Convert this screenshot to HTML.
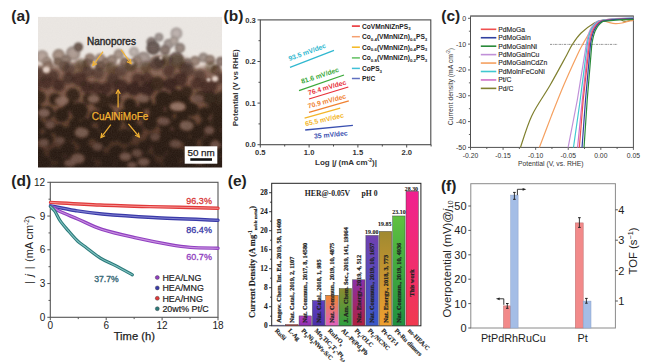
<!DOCTYPE html><html><head><meta charset="utf-8"><style>html,body{margin:0;padding:0;background:#fff;width:647px;height:362px;overflow:hidden;position:relative;font-family:"Liberation Sans",sans-serif}</style></head><body><svg width="647" height="362" viewBox="0 0 647 362" style="position:absolute;left:0;top:0">
<rect width="647" height="362" fill="#fff"/>
<defs><clipPath id="clipA"><rect x="38" y="16.8" width="184.1" height="150.6"/></clipPath><filter id="blurA" x="-50%" y="-50%" width="200%" height="200%"><feGaussianBlur stdDeviation="1.0"/></filter><filter id="blurP" x="-50%" y="-50%" width="200%" height="200%"><feTurbulence type="fractalNoise" baseFrequency="0.1" numOctaves="2" seed="11" result="t"/><feDisplacementMap in="SourceGraphic" in2="t" scale="8" xChannelSelector="R" yChannelSelector="G" result="d"/><feGaussianBlur in="d" stdDeviation="2.4"/></filter><filter id="blurPa" x="-50%" y="-50%" width="200%" height="200%"><feGaussianBlur stdDeviation="0.7"/></filter><filter id="blurA2" x="-20%" y="-20%" width="140%" height="140%"><feGaussianBlur stdDeviation="2.5"/></filter><filter id="blurA3" x="-50%" y="-50%" width="200%" height="200%"><feGaussianBlur stdDeviation="1.6"/></filter><filter id="noiseA"><feTurbulence type="fractalNoise" baseFrequency="0.8" numOctaves="1" seed="3"/><feColorMatrix type="matrix" values="0 0 0 0 0.62  0 0 0 0 0.58  0 0 0 0 0.55  0 0 0 0.3 0"/></filter></defs>
<g clip-path="url(#clipA)">
<rect x="38" y="16.8" width="184.1" height="150.6" fill="#ece8e4"/>
<g filter="url(#blurA2)"><path d="M30,66 L38,66 L50,64 L60,64 L70,63 L78,60 L86,64 L95,67 L105,66 L115,63 L125,66 L133,62 L145,64 L150,58 L158,54 L166,56 L172,58 L182,58 L186,58 L195,68 L205,66 L215,70 L225,68 L230,200 L30,200 Z" fill="#a8968e"/></g>
<defs><linearGradient id="tg" gradientUnits="userSpaceOnUse" x1="0" y1="50" x2="0" y2="170"><stop offset="0" stop-color="#947c72"/><stop offset="0.25" stop-color="#7a5e52"/><stop offset="0.6" stop-color="#62463a"/><stop offset="1" stop-color="#4a3228"/></linearGradient></defs>
<path d="M30,69 L38,69 L50,67 L60,67 L70,66 L78,63 L86,67 L95,70 L105,69 L115,66 L125,69 L133,65 L145,67 L150,61 L158,57 L166,59 L172,61 L182,61 L186,61 L195,71 L205,69 L215,73 L225,71 L230,200 L30,200 Z" fill="url(#tg)" filter="url(#blurA2)"/>
<g filter="url(#blurA)">
<circle cx="42.1" cy="56.4" r="6.2" fill="#b8a8a0"/>
<circle cx="42.1" cy="56.4" r="6.2" fill="url(#pg)"/>
<circle cx="58.7" cy="55.3" r="6.2" fill="#a89488"/>
<circle cx="58.7" cy="55.3" r="6.2" fill="url(#pg)"/>
<circle cx="73.2" cy="53.3" r="7" fill="#b0a098"/>
<circle cx="73.2" cy="53.3" r="7" fill="url(#pg)"/>
<circle cx="57.7" cy="61.5" r="4" fill="#7a6658"/>
<circle cx="57.7" cy="61.5" r="4" fill="url(#pg)"/>
<circle cx="78.4" cy="47" r="4.6" fill="#6e5a50"/>
<circle cx="78.4" cy="47" r="4.6" fill="url(#pg)"/>
<circle cx="89.8" cy="58.4" r="5" fill="#9a8478"/>
<circle cx="89.8" cy="58.4" r="5" fill="url(#pg)"/>
<circle cx="100.2" cy="58.4" r="5" fill="#a89488"/>
<circle cx="100.2" cy="58.4" r="5" fill="url(#pg)"/>
<circle cx="106.4" cy="62.6" r="5" fill="#8a7468"/>
<circle cx="106.4" cy="62.6" r="5" fill="url(#pg)"/>
<circle cx="118.8" cy="54.3" r="5" fill="#aa9a90"/>
<circle cx="118.8" cy="54.3" r="5" fill="url(#pg)"/>
<circle cx="125" cy="62.6" r="5" fill="#8a7468"/>
<circle cx="125" cy="62.6" r="5" fill="url(#pg)"/>
<circle cx="176.4" cy="33.4" r="5.8" fill="#c2b6b2"/>
<circle cx="176.4" cy="33.4" r="5.8" fill="url(#pg)"/>
<circle cx="168.7" cy="44" r="5" fill="#a89a95"/>
<circle cx="168.7" cy="44" r="5" fill="url(#pg)"/>
<circle cx="159" cy="37.3" r="4.3" fill="#a49894"/>
<circle cx="159" cy="37.3" r="4.3" fill="url(#pg)"/>
<circle cx="151.3" cy="42.1" r="4.8" fill="#8a7a75"/>
<circle cx="151.3" cy="42.1" r="4.8" fill="url(#pg)"/>
<circle cx="153.2" cy="47.9" r="6.8" fill="#6a5a55"/>
<circle cx="153.2" cy="47.9" r="6.8" fill="url(#pg)"/>
<circle cx="143.5" cy="58.6" r="6.8" fill="#a89c98"/>
<circle cx="143.5" cy="58.6" r="6.8" fill="url(#pg)"/>
<circle cx="133.9" cy="51.8" r="4.8" fill="#c0b8b4"/>
<circle cx="133.9" cy="51.8" r="4.8" fill="url(#pg)"/>
<circle cx="176.4" cy="58.6" r="6.8" fill="#8a7a75"/>
<circle cx="176.4" cy="58.6" r="6.8" fill="url(#pg)"/>
<circle cx="188" cy="63.4" r="4.8" fill="#8a7a75"/>
<circle cx="188" cy="63.4" r="4.8" fill="url(#pg)"/>
<circle cx="203.4" cy="57.6" r="4.8" fill="#a09590"/>
<circle cx="203.4" cy="57.6" r="4.8" fill="url(#pg)"/>
<circle cx="220.8" cy="61.5" r="4.8" fill="#8a7a75"/>
<circle cx="220.8" cy="61.5" r="4.8" fill="url(#pg)"/>
<circle cx="174" cy="41" r="4.5" fill="#b4a69e"/>
<circle cx="174" cy="41" r="4.5" fill="url(#pg)"/>
<circle cx="180" cy="48" r="5" fill="#9a8a82"/>
<circle cx="180" cy="48" r="5" fill="url(#pg)"/>
<circle cx="165" cy="50" r="5" fill="#8a7870"/>
<circle cx="165" cy="50" r="5" fill="url(#pg)"/>
<circle cx="47" cy="62" r="5" fill="#a49288"/>
<circle cx="47" cy="62" r="5" fill="url(#pg)"/>
<circle cx="66" cy="60" r="5" fill="#8e7c72"/>
<circle cx="66" cy="60" r="5" fill="url(#pg)"/>
<circle cx="137" cy="61" r="5" fill="#9a887e"/>
<circle cx="137" cy="61" r="5" fill="url(#pg)"/>
<circle cx="112" cy="60" r="5" fill="#9a887e"/>
<circle cx="112" cy="60" r="5" fill="url(#pg)"/>
<circle cx="195" cy="61" r="5" fill="#9a887e"/>
<circle cx="195" cy="61" r="5" fill="url(#pg)"/>
<circle cx="88" cy="64" r="5.5" fill="#7a6458"/>
<circle cx="88" cy="64" r="5.5" fill="url(#pg)"/>
<circle cx="48" cy="66" r="5" fill="#8a7468"/>
<circle cx="48" cy="66" r="5" fill="url(#pg)"/>
<circle cx="130" cy="66" r="5" fill="#7e6a60"/>
<circle cx="130" cy="66" r="5" fill="url(#pg)"/>
<circle cx="160" cy="62" r="5.5" fill="#6e5a50"/>
<circle cx="160" cy="62" r="5.5" fill="url(#pg)"/>
<circle cx="210" cy="60" r="5" fill="#9a887e"/>
<circle cx="210" cy="60" r="5" fill="url(#pg)"/>
<circle cx="216" cy="70" r="5" fill="#6e5a50"/>
<circle cx="216" cy="70" r="5" fill="url(#pg)"/>
<circle cx="184" cy="68" r="5" fill="#7a6458"/>
<circle cx="184" cy="68" r="5" fill="url(#pg)"/>
<circle cx="100" cy="66" r="5" fill="#6e5a50"/>
<circle cx="100" cy="66" r="5" fill="url(#pg)"/>
<circle cx="64" cy="66" r="5" fill="#6e5a50"/>
<circle cx="64" cy="66" r="5" fill="url(#pg)"/>
</g>
<defs><radialGradient id="pg" cx="0.5" cy="0.5" r="0.5"><stop offset="0" stop-color="#000" stop-opacity="0.0"/><stop offset="0.7" stop-color="#000" stop-opacity="0.08"/><stop offset="1" stop-color="#000" stop-opacity="0.3"/></radialGradient><radialGradient id="dg" cx="0.5" cy="0.5" r="0.5"><stop offset="0" stop-color="#22160f" stop-opacity="1"/><stop offset="0.75" stop-color="#2a1c17" stop-opacity="0.95"/><stop offset="1" stop-color="#2a1c17" stop-opacity="0"/></radialGradient></defs>
<g filter="url(#blurA3)">
<circle cx="69.1" cy="68.8" r="6.3" fill="#22140e" opacity="0.49"/>
<circle cx="81.5" cy="64.7" r="6.3" fill="#22140e" opacity="0.44"/>
<circle cx="79.4" cy="79.2" r="7.4" fill="#22140e" opacity="0.68"/>
<circle cx="98.1" cy="73.0" r="6.3" fill="#22140e" opacity="0.49"/>
<circle cx="120.9" cy="70.9" r="6.3" fill="#22140e" opacity="0.49"/>
<circle cx="112.6" cy="79.2" r="6.3" fill="#22140e" opacity="0.63"/>
<circle cx="58.7" cy="85.4" r="6.3" fill="#22140e" opacity="0.72"/>
<circle cx="96.0" cy="87.5" r="6.3" fill="#22140e" opacity="0.71"/>
<circle cx="211.2" cy="67.3" r="6.1" fill="#22140e" opacity="0.40"/>
<circle cx="168.7" cy="71.1" r="6.1" fill="#22140e" opacity="0.61"/>
<circle cx="137.7" cy="78.8" r="6.1" fill="#22140e" opacity="0.64"/>
<circle cx="199.6" cy="75.0" r="6.1" fill="#22140e" opacity="0.52"/>
<circle cx="61.8" cy="114.9" r="7.4" fill="#22140e" opacity="1.00"/>
<circle cx="67.8" cy="148.6" r="7.4" fill="#22140e" opacity="1.00"/>
<circle cx="107.5" cy="160.6" r="7.4" fill="#22140e" opacity="1.00"/>
<circle cx="113.5" cy="134.7" r="7.4" fill="#22140e" opacity="1.00"/>
<circle cx="186.6" cy="91.8" r="6.3" fill="#22140e" opacity="0.90"/>
<circle cx="136.8" cy="130.3" r="6.3" fill="#22140e" opacity="1.00"/>
<circle cx="125.0" cy="136.7" r="7.9" fill="#22140e" opacity="1.00"/>
<circle cx="85.7" cy="152.1" r="8.0" fill="#22140e" opacity="1.00"/>
<circle cx="149.9" cy="123.0" r="7.9" fill="#22140e" opacity="1.00"/>
<circle cx="46.6" cy="139.3" r="6.8" fill="#22140e" opacity="1.00"/>
<circle cx="43.9" cy="163.2" r="7.4" fill="#22140e" opacity="1.00"/>
<circle cx="93.3" cy="133.2" r="6.3" fill="#22140e" opacity="1.00"/>
<circle cx="191.9" cy="109.4" r="7.1" fill="#22140e" opacity="1.00"/>
<circle cx="223.4" cy="138.2" r="6.9" fill="#22140e" opacity="1.00"/>
<circle cx="103.2" cy="140.1" r="7.9" fill="#22140e" opacity="1.00"/>
<circle cx="132.2" cy="151.8" r="7.4" fill="#22140e" opacity="1.00"/>
<circle cx="37.5" cy="153.7" r="7.1" fill="#22140e" opacity="1.00"/>
<circle cx="133.7" cy="88.9" r="7.1" fill="#22140e" opacity="0.80"/>
<circle cx="39.2" cy="97.3" r="6.9" fill="#22140e" opacity="0.87"/>
<circle cx="156.8" cy="63.5" r="7.2" fill="#22140e" opacity="0.53"/>
<circle cx="72.9" cy="95.1" r="7.3" fill="#22140e" opacity="0.90"/>
<circle cx="219.9" cy="120.1" r="8.8" fill="#22140e" opacity="1.00"/>
<circle cx="64.8" cy="164.0" r="6.9" fill="#22140e" opacity="1.00"/>
<circle cx="157.3" cy="83.7" r="7.4" fill="#22140e" opacity="0.84"/>
<circle cx="217.5" cy="161.5" r="6.3" fill="#22140e" opacity="1.00"/>
<circle cx="170.1" cy="84.3" r="6.7" fill="#22140e" opacity="0.80"/>
<circle cx="82.0" cy="138.1" r="8.0" fill="#22140e" opacity="1.00"/>
<circle cx="79.3" cy="110.8" r="8.9" fill="#22140e" opacity="1.00"/>
<circle cx="147.3" cy="161.3" r="8.3" fill="#22140e" opacity="1.00"/>
<circle cx="145.7" cy="102.9" r="6.9" fill="#22140e" opacity="1.00"/>
<circle cx="176.2" cy="123.5" r="5.8" fill="#22140e" opacity="1.00"/>
<circle cx="171.2" cy="161.3" r="8.3" fill="#22140e" opacity="1.00"/>
<circle cx="101.2" cy="101.4" r="8.7" fill="#22140e" opacity="0.93"/>
<circle cx="180.9" cy="134.2" r="8.7" fill="#22140e" opacity="1.00"/>
<circle cx="130.0" cy="104.6" r="6.7" fill="#22140e" opacity="1.00"/>
<circle cx="88.0" cy="165.3" r="7.7" fill="#22140e" opacity="1.00"/>
<circle cx="197.2" cy="132.3" r="8.2" fill="#22140e" opacity="1.00"/>
<circle cx="203.2" cy="153.6" r="6.9" fill="#22140e" opacity="1.00"/>
<circle cx="176.0" cy="94.9" r="6.2" fill="#22140e" opacity="0.95"/>
<circle cx="34.5" cy="86.6" r="6.3" fill="#22140e" opacity="0.71"/>
<circle cx="137.1" cy="113.4" r="7.4" fill="#22140e" opacity="1.00"/>
<circle cx="159.7" cy="149.2" r="7.4" fill="#22140e" opacity="1.00"/>
<circle cx="156.6" cy="111.1" r="7.8" fill="#22140e" opacity="1.00"/>
<circle cx="196.5" cy="83.8" r="6.0" fill="#22140e" opacity="0.64"/>
<circle cx="53.2" cy="75.8" r="6.0" fill="#22140e" opacity="0.58"/>
<circle cx="115.0" cy="123.6" r="6.8" fill="#22140e" opacity="1.00"/>
<circle cx="214.9" cy="108.8" r="6.7" fill="#22140e" opacity="0.98"/>
<circle cx="213.0" cy="132.1" r="7.9" fill="#22140e" opacity="1.00"/>
<circle cx="101.5" cy="171.7" r="6.8" fill="#22140e" opacity="1.00"/>
<circle cx="70.5" cy="133.6" r="7.8" fill="#22140e" opacity="1.00"/>
<circle cx="121.9" cy="165.5" r="7.0" fill="#22140e" opacity="1.00"/>
<circle cx="152.8" cy="139.9" r="6.9" fill="#22140e" opacity="1.00"/>
<circle cx="208.9" cy="85.9" r="8.4" fill="#22140e" opacity="0.68"/>
<circle cx="114.5" cy="99.4" r="6.6" fill="#22140e" opacity="0.94"/>
<circle cx="54.9" cy="99.3" r="6.3" fill="#22140e" opacity="0.93"/>
<circle cx="55.9" cy="154.3" r="7.0" fill="#22140e" opacity="1.00"/>
<circle cx="59.6" cy="130.3" r="6.2" fill="#22140e" opacity="1.00"/>
<circle cx="220.1" cy="78.6" r="6.3" fill="#22140e" opacity="0.54"/>
<circle cx="116.4" cy="152.9" r="7.9" fill="#22140e" opacity="1.00"/>
<circle cx="227.7" cy="149.8" r="7.2" fill="#22140e" opacity="1.00"/>
<circle cx="207.7" cy="165.1" r="7.4" fill="#22140e" opacity="1.00"/>
<circle cx="164.9" cy="125.6" r="6.3" fill="#22140e" opacity="1.00"/>
<circle cx="124.4" cy="115.0" r="6.3" fill="#22140e" opacity="1.00"/>
<circle cx="85.9" cy="124.6" r="6.6" fill="#22140e" opacity="1.00"/>
<circle cx="200.5" cy="96.5" r="6.0" fill="#22140e" opacity="0.84"/>
<circle cx="187.6" cy="162.8" r="5.9" fill="#22140e" opacity="1.00"/>
<circle cx="46.2" cy="82.9" r="6.4" fill="#22140e" opacity="0.67"/>
<circle cx="204.8" cy="113.1" r="6.5" fill="#22140e" opacity="1.00"/>
<circle cx="33.1" cy="134.8" r="8.0" fill="#22140e" opacity="1.00"/>
<circle cx="207.6" cy="143.0" r="6.3" fill="#22140e" opacity="1.00"/>
<circle cx="190.4" cy="144.3" r="6.7" fill="#22140e" opacity="1.00"/>
<circle cx="172.9" cy="107.0" r="7.6" fill="#22140e" opacity="1.00"/>
<circle cx="95.6" cy="117.1" r="6.7" fill="#22140e" opacity="1.00"/>
<circle cx="49.7" cy="127.2" r="6.5" fill="#22140e" opacity="1.00"/>
<circle cx="220.7" cy="97.5" r="6.1" fill="#22140e" opacity="0.83"/>
<circle cx="36.5" cy="171.0" r="5.8" fill="#22140e" opacity="1.00"/>
<circle cx="36.2" cy="111.5" r="8.0" fill="#22140e" opacity="1.00"/>
<circle cx="195.3" cy="171.7" r="8.0" fill="#22140e" opacity="1.00"/>
<circle cx="163.1" cy="99.1" r="8.4" fill="#22140e" opacity="1.00"/>
<circle cx="187.6" cy="69.7" r="7.2" fill="#22140e" opacity="0.55"/>
<circle cx="226.6" cy="169.9" r="6.8" fill="#22140e" opacity="1.00"/>
<circle cx="171.8" cy="148.4" r="5.9" fill="#22140e" opacity="1.00"/>
<circle cx="77.6" cy="169.5" r="6.6" fill="#22140e" opacity="1.00"/>
<circle cx="97.5" cy="153.1" r="6.9" fill="#22140e" opacity="1.00"/>
<circle cx="120.8" cy="87.1" r="8.0" fill="#22140e" opacity="0.74"/>
<circle cx="145.7" cy="67.2" r="5.9" fill="#22140e" opacity="0.46"/>
<circle cx="75.3" cy="157.2" r="6.5" fill="#22140e" opacity="1.00"/>
<circle cx="147.2" cy="89.5" r="7.7" fill="#22140e" opacity="0.82"/>
<circle cx="56.6" cy="171.9" r="7.4" fill="#22140e" opacity="1.00"/>
<circle cx="88.6" cy="98.8" r="6.1" fill="#22140e" opacity="0.91"/>
<circle cx="177.0" cy="61.9" r="8.0" fill="#22140e" opacity="0.46"/>
<circle cx="47.5" cy="112.9" r="6.8" fill="#22140e" opacity="1.00"/>
<circle cx="39.3" cy="74.6" r="7.8" fill="#22140e" opacity="0.53"/>
<circle cx="74.7" cy="123.6" r="6.0" fill="#22140e" opacity="1.00"/>
<circle cx="106.6" cy="112.5" r="7.2" fill="#22140e" opacity="1.00"/>
<circle cx="131.8" cy="65.6" r="6.3" fill="#22140e" opacity="0.45"/>
<circle cx="167.5" cy="116.4" r="5.8" fill="#22140e" opacity="1.00"/>
<circle cx="227.8" cy="90.6" r="5.8" fill="#22140e" opacity="0.73"/>
<circle cx="134.4" cy="166.0" r="8.9" fill="#22140e" opacity="1.00"/>
<circle cx="86.5" cy="86.9" r="6.2" fill="#22140e" opacity="0.74"/>
<circle cx="156.3" cy="168.1" r="5.9" fill="#22140e" opacity="1.00"/>
<circle cx="106.2" cy="88.1" r="6.1" fill="#22140e" opacity="0.74"/>
<circle cx="166.7" cy="136.8" r="8.3" fill="#22140e" opacity="1.00"/>
<circle cx="190.1" cy="123.7" r="5.8" fill="#22140e" opacity="1.00"/>
<circle cx="178.2" cy="171.3" r="7.4" fill="#22140e" opacity="1.00"/>
<circle cx="144.0" cy="146.7" r="6.4" fill="#22140e" opacity="1.00"/>
<circle cx="226.4" cy="107.2" r="7.5" fill="#22140e" opacity="0.98"/>
<circle cx="179.2" cy="153.7" r="5.8" fill="#22140e" opacity="1.00"/>
<circle cx="216.4" cy="151.9" r="6.0" fill="#22140e" opacity="1.00"/>
<circle cx="147.2" cy="78.1" r="5.9" fill="#22140e" opacity="0.65"/>
<circle cx="104.7" cy="126.1" r="7.0" fill="#22140e" opacity="1.00"/>
<circle cx="61.8" cy="139.4" r="5.8" fill="#22140e" opacity="1.00"/>
<circle cx="38.2" cy="124.9" r="6.0" fill="#22140e" opacity="1.00"/>
<circle cx="111.6" cy="170.7" r="6.3" fill="#22140e" opacity="1.00"/>
<circle cx="180.2" cy="79.5" r="7.3" fill="#22140e" opacity="0.72"/>
<circle cx="68.4" cy="78.4" r="6.0" fill="#22140e" opacity="0.63"/>
<circle cx="69.0" cy="105.8" r="5.8" fill="#22140e" opacity="1.00"/>
<circle cx="87.9" cy="72.1" r="5.9" fill="#22140e" opacity="0.51"/>
<circle cx="205.6" cy="124.5" r="5.9" fill="#22140e" opacity="1.00"/>
<circle cx="193.1" cy="154.8" r="6.0" fill="#22140e" opacity="1.00"/>
<circle cx="110.5" cy="67.9" r="6.0" fill="#22140e" opacity="0.45"/>
<circle cx="210.6" cy="99.0" r="7.2" fill="#22140e" opacity="0.86"/>
<circle cx="228.0" cy="128.7" r="6.2" fill="#22140e" opacity="1.00"/>
<circle cx="182.2" cy="115.5" r="6.5" fill="#22140e" opacity="1.00"/>
<circle cx="130.6" cy="122.8" r="6.1" fill="#22140e" opacity="1.00"/>
<circle cx="184.4" cy="101.6" r="6.3" fill="#22140e" opacity="1.00"/>
<circle cx="166.3" cy="59.6" r="5.9" fill="#22140e" opacity="0.45"/>
<circle cx="165.5" cy="171.6" r="6.4" fill="#22140e" opacity="1.00"/>
</g>
<ellipse cx="46.3" cy="69.8" rx="3.5" ry="3.2" fill="#ddd2cc" filter="url(#blurA)"/>
<ellipse cx="92.9" cy="65.7" rx="2.2" ry="2" fill="#ddd2cc" filter="url(#blurA)"/>
<ellipse cx="160.9" cy="57.6" rx="1.6" ry="2.2" fill="#ddd2cc" filter="url(#blurA)"/>
<ellipse cx="215" cy="78.8" rx="3.2" ry="3" fill="#ddd2cc" filter="url(#blurA)"/>
<ellipse cx="131.9" cy="62.8" rx="2" ry="1.8" fill="#ddd2cc" filter="url(#blurA)"/>
<ellipse cx="208.6" cy="79.8" rx="2.2" ry="2" fill="#ddd2cc" filter="url(#blurA)"/>
<ellipse cx="177.6" cy="106.5" rx="8" ry="4.5" fill="#9a7e72" opacity="0.85" filter="url(#blurA3)"/>
<ellipse cx="61.8" cy="101" rx="7" ry="4.5" fill="#8a7066" opacity="0.8" filter="url(#blurA3)"/>
<ellipse cx="93.6" cy="99" rx="6" ry="4" fill="#8a7066" opacity="0.8" filter="url(#blurA3)"/>
<defs><linearGradient id="bg2" x1="0" y1="0" x2="0" y2="1"><stop offset="0" stop-color="#1a100c" stop-opacity="0"/><stop offset="1" stop-color="#1a100c" stop-opacity="0.55"/></linearGradient></defs>
<rect x="30" y="110" width="200" height="60" fill="url(#bg2)"/>
<g filter="url(#blurA3)">
<ellipse cx="44" cy="112.9" rx="6" ry="4.5" fill="#7e6660" opacity="0.85"/>
<ellipse cx="50" cy="124.8" rx="5" ry="4" fill="#6a5450" opacity="0.85"/>
<ellipse cx="81.7" cy="132.8" rx="7" ry="5" fill="#76605a" opacity="0.85"/>
<ellipse cx="59.9" cy="140.7" rx="5" ry="4" fill="#5e4a46" opacity="0.85"/>
<ellipse cx="44" cy="142.7" rx="5" ry="4" fill="#66524c" opacity="0.85"/>
<ellipse cx="77.7" cy="158.6" rx="7" ry="5" fill="#6e5852" opacity="0.85"/>
<ellipse cx="97.6" cy="146.7" rx="5" ry="4" fill="#5e4a46" opacity="0.85"/>
<ellipse cx="125.4" cy="156.6" rx="6" ry="4" fill="#6e5852" opacity="0.85"/>
<ellipse cx="143.6" cy="98.6" rx="6" ry="4" fill="#7a625a" opacity="0.85"/>
<ellipse cx="198" cy="98.6" rx="6" ry="4" fill="#6a5450" opacity="0.85"/>
<ellipse cx="164" cy="121.3" rx="6" ry="4" fill="#6a5450" opacity="0.85"/>
<ellipse cx="186.6" cy="125.8" rx="7" ry="5" fill="#76605a" opacity="0.85"/>
<ellipse cx="209.3" cy="130.3" rx="5" ry="4" fill="#6a5450" opacity="0.85"/>
<ellipse cx="155" cy="137" rx="5" ry="4" fill="#5e4a46" opacity="0.85"/>
<ellipse cx="175.3" cy="143.9" rx="6" ry="4" fill="#5e4a46" opacity="0.85"/>
<ellipse cx="136.8" cy="153" rx="5" ry="4" fill="#5e4a46" opacity="0.85"/>
<ellipse cx="143.6" cy="162" rx="6" ry="4" fill="#6e5852" opacity="0.85"/>
<ellipse cx="70" cy="163" rx="6" ry="3.5" fill="#6a5450" opacity="0.85"/>
<ellipse cx="132" cy="165" rx="5" ry="3" fill="#6a5450" opacity="0.85"/>
<ellipse cx="200" cy="160" rx="6" ry="4" fill="#5e4a46" opacity="0.85"/>
<ellipse cx="215" cy="145" rx="5" ry="4" fill="#66524c" opacity="0.85"/>
</g>
<defs><linearGradient id="sep" x1="0" y1="0" x2="0" y2="1"><stop offset="0" stop-color="#c8805a" stop-opacity="0"/><stop offset="0.2" stop-color="#c8805a" stop-opacity="0.17"/><stop offset="1" stop-color="#c8805a" stop-opacity="0.17"/></linearGradient></defs>
<rect x="30" y="45" width="200" height="135" fill="url(#sep)" style="mix-blend-mode:color"/>
<rect x="38" y="16.8" width="184.1" height="150.6" filter="url(#noiseA)" opacity="0.45"/>
</g>
<text x="87" y="45" font-family='"Liberation Sans", sans-serif' font-size="10" font-weight="normal" fill="#2a2a2a" text-anchor="start" stroke="#2a2a2a" stroke-width="0.4">Nanopores</text>
<text x="91.7" y="119.5" font-family='"Liberation Sans", sans-serif' font-size="10" font-weight="normal" fill="#f2b233" text-anchor="start"  stroke="#f2b233" stroke-width="0.25">CuAlNiMoFe</text>
<line x1="103" y1="51.7" x2="92.9" y2="65.5" stroke="#f2b233" stroke-width="1.2" />
<polyline points="93.5,61.0 92.9,65.5 97.0,63.6" fill="none" stroke="#f2b233" stroke-width="1.2"/>
<line x1="121" y1="49.7" x2="131" y2="63.5" stroke="#f2b233" stroke-width="1.2" />
<polyline points="126.9,61.6 131,63.5 130.4,59.0" fill="none" stroke="#f2b233" stroke-width="1.2"/>
<line x1="118.1" y1="107.6" x2="118.1" y2="90" stroke="#f2b233" stroke-width="1.2" />
<polyline points="120.3,93.9 118.1,90 115.9,93.9" fill="none" stroke="#f2b233" stroke-width="1.2"/>
<line x1="110.8" y1="124.7" x2="101" y2="137.6" stroke="#f2b233" stroke-width="1.2" />
<polyline points="101.7,133.2 101,137.6 105.1,135.8" fill="none" stroke="#f2b233" stroke-width="1.2"/>
<line x1="128.4" y1="123.8" x2="139.3" y2="137" stroke="#f2b233" stroke-width="1.2" />
<polyline points="135.1,135.3 139.3,137 138.4,132.6" fill="none" stroke="#f2b233" stroke-width="1.2"/>
<rect x="184.7" y="146.3" width="32.6" height="17.4" fill="#fff"/>
<text x="187.4" y="155.8" font-family='"Liberation Sans", sans-serif' font-size="9.9" font-weight="normal" fill="#222" text-anchor="start"  stroke="#222" stroke-width="0.25">50 nm</text>
<rect x="190.3" y="158.2" width="21.7" height="2.6" fill="#111"/>
<rect x="260.3" y="19.9" width="170.5" height="124.79999999999998" fill="none" stroke="#4a4a4a" stroke-width="1.1"/>
<line x1="257.5" y1="144.7" x2="260.3" y2="144.7" stroke="#4a4a4a" stroke-width="1" />
<text x="255.8" y="147.39999999999998" font-family='"Liberation Sans", sans-serif' font-size="7.6" font-weight="bold" fill="#333" text-anchor="end" >0.0</text>
<line x1="258.5" y1="123.89999999999999" x2="260.3" y2="123.89999999999999" stroke="#4a4a4a" stroke-width="1" />
<line x1="257.5" y1="103.1" x2="260.3" y2="103.1" stroke="#4a4a4a" stroke-width="1" />
<text x="255.8" y="105.8" font-family='"Liberation Sans", sans-serif' font-size="7.6" font-weight="bold" fill="#333" text-anchor="end" >0.1</text>
<line x1="258.5" y1="82.29999999999998" x2="260.3" y2="82.29999999999998" stroke="#4a4a4a" stroke-width="1" />
<line x1="257.5" y1="61.499999999999986" x2="260.3" y2="61.499999999999986" stroke="#4a4a4a" stroke-width="1" />
<text x="255.8" y="64.19999999999999" font-family='"Liberation Sans", sans-serif' font-size="7.6" font-weight="bold" fill="#333" text-anchor="end" >0.2</text>
<line x1="258.5" y1="40.69999999999999" x2="260.3" y2="40.69999999999999" stroke="#4a4a4a" stroke-width="1" />
<line x1="257.5" y1="19.899999999999977" x2="260.3" y2="19.899999999999977" stroke="#4a4a4a" stroke-width="1" />
<text x="255.8" y="22.599999999999977" font-family='"Liberation Sans", sans-serif' font-size="7.6" font-weight="bold" fill="#333" text-anchor="end" >0.3</text>
<line x1="260.3" y1="144.7" x2="260.3" y2="147.5" stroke="#4a4a4a" stroke-width="1" />
<text x="260.3" y="155.4" font-family='"Liberation Sans", sans-serif' font-size="7.6" font-weight="bold" fill="#333" text-anchor="middle" >0.5</text>
<line x1="284.7" y1="144.7" x2="284.7" y2="146.5" stroke="#4a4a4a" stroke-width="1" />
<line x1="309.1" y1="144.7" x2="309.1" y2="147.5" stroke="#4a4a4a" stroke-width="1" />
<text x="309.1" y="155.4" font-family='"Liberation Sans", sans-serif' font-size="7.6" font-weight="bold" fill="#333" text-anchor="middle" >1.0</text>
<line x1="333.5" y1="144.7" x2="333.5" y2="146.5" stroke="#4a4a4a" stroke-width="1" />
<line x1="357.9" y1="144.7" x2="357.9" y2="147.5" stroke="#4a4a4a" stroke-width="1" />
<text x="357.9" y="155.4" font-family='"Liberation Sans", sans-serif' font-size="7.6" font-weight="bold" fill="#333" text-anchor="middle" >1.5</text>
<line x1="382.3" y1="144.7" x2="382.3" y2="146.5" stroke="#4a4a4a" stroke-width="1" />
<line x1="406.7" y1="144.7" x2="406.7" y2="147.5" stroke="#4a4a4a" stroke-width="1" />
<text x="406.7" y="155.4" font-family='"Liberation Sans", sans-serif' font-size="7.6" font-weight="bold" fill="#333" text-anchor="middle" >2.0</text>
<line x1="431.1" y1="144.7" x2="431.1" y2="146.5" stroke="#4a4a4a" stroke-width="1" />
<text x="238.3" y="87.8" font-family='"Liberation Sans", sans-serif' font-size="8" font-weight="bold" fill="#333" text-anchor="middle" transform="rotate(-90 238.3 87.8)" >Potential (V vs RHE)</text>
<text x="315" y="165.4" font-family='"Liberation Sans", sans-serif' font-size="8" font-weight="bold" fill="#333">Log |<tspan font-style="italic">j</tspan> (mA cm<tspan font-size="5" dy="-3">-2</tspan><tspan dy="3">)|</tspan></text>
<line x1="290" y1="67.4" x2="334" y2="50.4" stroke="#30b8d0" stroke-width="1.3" />
<text x="289.5" y="61" font-family='"Liberation Sans", sans-serif' font-size="6.8" font-weight="bold" fill="#30b8d0" text-anchor="start" transform="rotate(-20 289.5 61)" >93.5 mV/dec</text>
<line x1="299" y1="90.7" x2="344" y2="75" stroke="#3aa93a" stroke-width="1.3" />
<text x="302" y="83.8" font-family='"Liberation Sans", sans-serif' font-size="6.8" font-weight="bold" fill="#3aa93a" text-anchor="start" transform="rotate(-18 302 83.8)" >81.6 mV/dec</text>
<line x1="309" y1="99" x2="348.3" y2="87" stroke="#e8303a" stroke-width="1.3" />
<text x="308.8" y="95.2" font-family='"Liberation Sans", sans-serif' font-size="6.8" font-weight="bold" fill="#e8303a" text-anchor="start" transform="rotate(-16 308.8 95.2)" >76.4 mV/dec</text>
<line x1="309" y1="112.3" x2="348.8" y2="100.8" stroke="#f08232" stroke-width="1.3" />
<text x="308.5" y="108.5" font-family='"Liberation Sans", sans-serif' font-size="6.8" font-weight="bold" fill="#f08232" text-anchor="start" transform="rotate(-15 308.5 108.5)" >70.9 mV/dec</text>
<line x1="304.6" y1="118.1" x2="340.2" y2="108.2" stroke="#f3b52a" stroke-width="1.3" />
<text x="305.8" y="126.2" font-family='"Liberation Sans", sans-serif' font-size="6.8" font-weight="bold" fill="#f3b52a" text-anchor="start" transform="rotate(-13 305.8 126.2)" >65.5 mV/dec</text>
<line x1="305.2" y1="130" x2="352.9" y2="125.3" stroke="#3a50b0" stroke-width="1.3" />
<text x="314.3" y="138.6" font-family='"Liberation Sans", sans-serif' font-size="6.8" font-weight="bold" fill="#3a50b0" text-anchor="start" transform="rotate(-5.5 314.3 138.6)" >35 mV/dec</text>
<line x1="351.9" y1="26.1" x2="359.9" y2="26.1" stroke="#e8262a" stroke-width="1.5" />
<text x="362" y="28.5" font-family='"Liberation Sans", sans-serif' font-size="6.6" font-weight="bold" fill="#222" text-anchor="start" >CoVMnNiZnPS<tspan font-size="4.4" dy="1.8">3</tspan></text>
<line x1="351.9" y1="36.7" x2="359.9" y2="36.7" stroke="#f5a070" stroke-width="1.5" />
<text x="362" y="39.1" font-family='"Liberation Sans", sans-serif' font-size="6.6" font-weight="bold" fill="#222" text-anchor="start" >Co<tspan font-size="4.4" dy="1.8">0.4</tspan><tspan dy="-1.8">(VMnNiZn)</tspan><tspan font-size="4.4" dy="1.8">0.6</tspan><tspan dy="-1.8">PS</tspan><tspan font-size="4.4" dy="1.8">3</tspan></text>
<line x1="351.9" y1="47.2" x2="359.9" y2="47.2" stroke="#f5b820" stroke-width="1.5" />
<text x="362" y="49.6" font-family='"Liberation Sans", sans-serif' font-size="6.6" font-weight="bold" fill="#222" text-anchor="start" >Co<tspan font-size="4.4" dy="1.8">0.6</tspan><tspan dy="-1.8">(VMnNiZn)</tspan><tspan font-size="4.4" dy="1.8">0.4</tspan><tspan dy="-1.8">PS</tspan><tspan font-size="4.4" dy="1.8">3</tspan></text>
<line x1="351.9" y1="57.9" x2="359.9" y2="57.9" stroke="#60c060" stroke-width="1.5" />
<text x="362" y="60.3" font-family='"Liberation Sans", sans-serif' font-size="6.6" font-weight="bold" fill="#222" text-anchor="start" >Co<tspan font-size="4.4" dy="1.8">0.8</tspan><tspan dy="-1.8">(VMnNiZn)</tspan><tspan font-size="4.4" dy="1.8">0.2</tspan><tspan dy="-1.8">PS</tspan><tspan font-size="4.4" dy="1.8">3</tspan></text>
<line x1="351.9" y1="68.4" x2="359.9" y2="68.4" stroke="#40c0d8" stroke-width="1.5" />
<text x="362" y="70.80000000000001" font-family='"Liberation Sans", sans-serif' font-size="6.6" font-weight="bold" fill="#222" text-anchor="start" >CoPS<tspan font-size="4.4" dy="1.8">3</tspan></text>
<line x1="351.9" y1="78.5" x2="359.9" y2="78.5" stroke="#6070c0" stroke-width="1.5" />
<text x="362" y="80.9" font-family='"Liberation Sans", sans-serif' font-size="6.6" font-weight="bold" fill="#222" text-anchor="start" >Pt/C</text>
<rect x="470.5" y="16.1" width="162.89999999999998" height="131.3" fill="none" stroke="#505050" stroke-width="1"/>
<line x1="470.5" y1="16.1" x2="633.4" y2="16.1" stroke="#8a8a8a" stroke-width="1.6" />
<line x1="468.0" y1="147.4" x2="470.5" y2="147.4" stroke="#505050" stroke-width="0.9" />
<text x="466.2" y="149.9" font-family='"Liberation Sans", sans-serif' font-size="7.1" font-weight="normal" fill="#333" text-anchor="end" >-50</text>
<line x1="468.9" y1="134.49" x2="470.5" y2="134.49" stroke="#505050" stroke-width="0.9" />
<line x1="468.0" y1="121.58000000000001" x2="470.5" y2="121.58000000000001" stroke="#505050" stroke-width="0.9" />
<text x="466.2" y="124.08000000000001" font-family='"Liberation Sans", sans-serif' font-size="7.1" font-weight="normal" fill="#333" text-anchor="end" >-40</text>
<line x1="468.9" y1="108.67000000000002" x2="470.5" y2="108.67000000000002" stroke="#505050" stroke-width="0.9" />
<line x1="468.0" y1="95.76" x2="470.5" y2="95.76" stroke="#505050" stroke-width="0.9" />
<text x="466.2" y="98.26" font-family='"Liberation Sans", sans-serif' font-size="7.1" font-weight="normal" fill="#333" text-anchor="end" >-30</text>
<line x1="468.9" y1="82.85000000000001" x2="470.5" y2="82.85000000000001" stroke="#505050" stroke-width="0.9" />
<line x1="468.0" y1="69.94000000000001" x2="470.5" y2="69.94000000000001" stroke="#505050" stroke-width="0.9" />
<text x="466.2" y="72.44000000000001" font-family='"Liberation Sans", sans-serif' font-size="7.1" font-weight="normal" fill="#333" text-anchor="end" >-20</text>
<line x1="468.9" y1="57.030000000000015" x2="470.5" y2="57.030000000000015" stroke="#505050" stroke-width="0.9" />
<line x1="468.0" y1="44.120000000000005" x2="470.5" y2="44.120000000000005" stroke="#505050" stroke-width="0.9" />
<text x="466.2" y="46.620000000000005" font-family='"Liberation Sans", sans-serif' font-size="7.1" font-weight="normal" fill="#333" text-anchor="end" >-10</text>
<line x1="468.9" y1="31.210000000000008" x2="470.5" y2="31.210000000000008" stroke="#505050" stroke-width="0.9" />
<line x1="468.0" y1="18.30000000000001" x2="470.5" y2="18.30000000000001" stroke="#505050" stroke-width="0.9" />
<text x="466.2" y="20.80000000000001" font-family='"Liberation Sans", sans-serif' font-size="7.1" font-weight="normal" fill="#333" text-anchor="end" >0</text>
<line x1="470.5" y1="147.4" x2="470.5" y2="149.9" stroke="#505050" stroke-width="0.9" />
<text x="470.5" y="157.5" font-family='"Liberation Sans", sans-serif' font-size="6.8" font-weight="normal" fill="#333" text-anchor="middle" >-0.20</text>
<line x1="486.79" y1="147.4" x2="486.79" y2="149.0" stroke="#505050" stroke-width="0.9" />
<line x1="503.08" y1="147.4" x2="503.08" y2="149.9" stroke="#505050" stroke-width="0.9" />
<text x="503.08" y="157.5" font-family='"Liberation Sans", sans-serif' font-size="6.8" font-weight="normal" fill="#333" text-anchor="middle" >-0.15</text>
<line x1="519.37" y1="147.4" x2="519.37" y2="149.0" stroke="#505050" stroke-width="0.9" />
<line x1="535.66" y1="147.4" x2="535.66" y2="149.9" stroke="#505050" stroke-width="0.9" />
<text x="535.66" y="157.5" font-family='"Liberation Sans", sans-serif' font-size="6.8" font-weight="normal" fill="#333" text-anchor="middle" >-0.10</text>
<line x1="551.95" y1="147.4" x2="551.95" y2="149.0" stroke="#505050" stroke-width="0.9" />
<line x1="568.24" y1="147.4" x2="568.24" y2="149.9" stroke="#505050" stroke-width="0.9" />
<text x="568.24" y="157.5" font-family='"Liberation Sans", sans-serif' font-size="6.8" font-weight="normal" fill="#333" text-anchor="middle" >-0.05</text>
<line x1="584.53" y1="147.4" x2="584.53" y2="149.0" stroke="#505050" stroke-width="0.9" />
<line x1="600.82" y1="147.4" x2="600.82" y2="149.9" stroke="#505050" stroke-width="0.9" />
<text x="600.82" y="157.5" font-family='"Liberation Sans", sans-serif' font-size="6.8" font-weight="normal" fill="#333" text-anchor="middle" >0.00</text>
<line x1="617.11" y1="147.4" x2="617.11" y2="149.0" stroke="#505050" stroke-width="0.9" />
<line x1="633.4" y1="147.4" x2="633.4" y2="149.9" stroke="#505050" stroke-width="0.9" />
<text x="633.4" y="157.5" font-family='"Liberation Sans", sans-serif' font-size="6.8" font-weight="normal" fill="#333" text-anchor="middle" >0.05</text>
<text x="550.8" y="165.8" font-family='"Liberation Sans", sans-serif' font-size="6.8" font-weight="normal" fill="#333" text-anchor="middle" >Potential (V, vs. RHE)</text>
<text x="0" y="0" transform="translate(452.8 86.5) rotate(-90)" font-family='"Liberation Sans", sans-serif' font-size="6.8" fill="#333" text-anchor="middle">Current density (mA cm<tspan font-size="4.5" dy="-2.5">-2</tspan><tspan dy="2.5">)</tspan></text>
<line x1="550" y1="44.4" x2="617.5" y2="44.4" stroke="#666" stroke-width="0.7" stroke-dasharray="2.2,0.8,0.8,0.8"/>
<defs><clipPath id="clipC"><rect x="470.5" y="16.5" width="162.9" height="131"/></clipPath></defs>
<g clip-path="url(#clipC)" fill="none" stroke-width="1.2">
<path d="M519.8,149.5 C521.78,143.90 526.68,126.57 531.7,115.9 C536.72,105.23 544.08,95.62 549.9,85.5 C555.72,75.38 562.85,62.05 566.6,55.2 C570.35,48.35 569.98,48.10 572.4,44.4 C574.82,40.70 577.45,36.55 581.1,33 C584.75,29.45 590.82,25.22 594.3,23.1 C597.78,20.98 598.88,20.95 602,20.3 C605.12,19.65 610.00,19.35 613,19.2 C616.00,19.05 618.17,19.07 620,19.4 C621.83,19.73 622.67,20.93 624,21.2 C625.33,21.47 626.33,21.37 628,21 C629.67,20.63 633.00,19.33 634,19" stroke="#808030"/>
<path d="M538.6,149.5 C540.73,143.90 547.23,126.57 551.4,115.9 C555.57,105.23 559.30,95.62 563.6,85.5 C567.90,75.38 574.02,62.05 577.2,55.2 C580.38,48.35 580.22,48.83 582.7,44.4 C585.18,39.97 589.55,32.25 592.1,28.6 C594.65,24.95 596.15,23.80 598,22.5 C599.85,21.20 601.37,20.80 603.2,20.8 C605.03,20.80 606.98,22.03 609,22.5 C611.02,22.97 613.13,23.52 615.3,23.6 C617.47,23.68 619.88,23.38 622,23 C624.12,22.62 626.00,21.72 628,21.3 C630.00,20.88 633.00,20.63 634,20.5" stroke="#f5a060"/>
<path d="M568,148 L577.3,100 L586.3,44.4 C587.9,35 589.9,26 597.3,21.4 C604.3,19.2 622,18.2 634,17.9" stroke="#c090d8"/>
<path d="M573.4,148 L580.2,100 L587.3,44.4 C588.9,35 590.9,26 598.3,21.4 C605.3,19.3 622,18.4 634,18.099999999999998" stroke="#40c8d0"/>
<path d="M577.5,148 L582.3,100 L588.4,44.4 C590.0,35 592.0,26 599.4,21.4 C606.4,19.4 622,18.6 634,18.3" stroke="#d070c8"/>
<path d="M579.3,148 L583.2,100 L589.4,44.4 C591.0,35 593.0,26 600.4,21.4 C607.4,19.6 622,18.8 634,18.5" stroke="#f05050"/>
<path d="M582,148 L585.5,100 L590.5,44.4 C592.1,35 594.1,26 601.5,21.4 C608.5,19.8 622,19.0 634,18.7" stroke="#3040a0"/>
<path d="M584,148 L587.2,100 L591.8,44.4 C593.4,35 595.4,26 602.8,21.4 C609.8,20.3 622,19.6 634,19.3" stroke="#2a8a3a"/>
</g>
<line x1="480.8" y1="29.3" x2="496.3" y2="29.3" stroke="#f05050" stroke-width="1.6" />
<text x="498.2" y="31.7" font-family='"Liberation Sans", sans-serif' font-size="6.8" font-weight="normal" fill="#222" text-anchor="start"  stroke="#222" stroke-width="0.12">PdMoGa</text>
<line x1="480.8" y1="37.74" x2="496.3" y2="37.74" stroke="#3040a0" stroke-width="1.6" />
<text x="498.2" y="40.14" font-family='"Liberation Sans", sans-serif' font-size="6.8" font-weight="normal" fill="#222" text-anchor="start"  stroke="#222" stroke-width="0.12">PdMoGaIn</text>
<line x1="480.8" y1="46.18" x2="496.3" y2="46.18" stroke="#2a8a3a" stroke-width="1.6" />
<text x="498.2" y="48.58" font-family='"Liberation Sans", sans-serif' font-size="6.8" font-weight="normal" fill="#222" text-anchor="start"  stroke="#222" stroke-width="0.12">PdMoGaInNi</text>
<line x1="480.8" y1="54.620000000000005" x2="496.3" y2="54.620000000000005" stroke="#c090d8" stroke-width="1.6" />
<text x="498.2" y="57.02" font-family='"Liberation Sans", sans-serif' font-size="6.8" font-weight="normal" fill="#222" text-anchor="start"  stroke="#222" stroke-width="0.12">PdMoGaInCu</text>
<line x1="480.8" y1="63.06" x2="496.3" y2="63.06" stroke="#f5a060" stroke-width="1.6" />
<text x="498.2" y="65.46000000000001" font-family='"Liberation Sans", sans-serif' font-size="6.8" font-weight="normal" fill="#222" text-anchor="start"  stroke="#222" stroke-width="0.12">PdMoGaInCdZn</text>
<line x1="480.8" y1="71.5" x2="496.3" y2="71.5" stroke="#40c8d0" stroke-width="1.6" />
<text x="498.2" y="73.9" font-family='"Liberation Sans", sans-serif' font-size="6.8" font-weight="normal" fill="#222" text-anchor="start"  stroke="#222" stroke-width="0.12">PdMoInFeCoNi</text>
<line x1="480.8" y1="79.94" x2="496.3" y2="79.94" stroke="#d070c8" stroke-width="1.6" />
<text x="498.2" y="82.34" font-family='"Liberation Sans", sans-serif' font-size="6.8" font-weight="normal" fill="#222" text-anchor="start"  stroke="#222" stroke-width="0.12">Pt/C</text>
<line x1="480.8" y1="88.38" x2="496.3" y2="88.38" stroke="#808030" stroke-width="1.6" />
<text x="498.2" y="90.78" font-family='"Liberation Sans", sans-serif' font-size="6.8" font-weight="normal" fill="#222" text-anchor="start"  stroke="#222" stroke-width="0.12">Pd/C</text>
<rect x="50.3" y="182.3" width="167.7" height="135.0" fill="none" stroke="#555" stroke-width="1.1"/>
<line x1="47.3" y1="317.3" x2="50.3" y2="317.3" stroke="#555" stroke-width="1" />
<text x="45.2" y="320.90000000000003" font-family='"Liberation Sans", sans-serif' font-size="10" font-weight="normal" fill="#222" text-anchor="end" >0</text>
<line x1="48.5" y1="300.425" x2="50.3" y2="300.425" stroke="#555" stroke-width="1" />
<line x1="47.3" y1="283.55" x2="50.3" y2="283.55" stroke="#555" stroke-width="1" />
<text x="45.2" y="287.15000000000003" font-family='"Liberation Sans", sans-serif' font-size="10" font-weight="normal" fill="#222" text-anchor="end" >3</text>
<line x1="48.5" y1="266.675" x2="50.3" y2="266.675" stroke="#555" stroke-width="1" />
<line x1="47.3" y1="249.8" x2="50.3" y2="249.8" stroke="#555" stroke-width="1" />
<text x="45.2" y="253.4" font-family='"Liberation Sans", sans-serif' font-size="10" font-weight="normal" fill="#222" text-anchor="end" >6</text>
<line x1="48.5" y1="232.925" x2="50.3" y2="232.925" stroke="#555" stroke-width="1" />
<line x1="47.3" y1="216.05" x2="50.3" y2="216.05" stroke="#555" stroke-width="1" />
<text x="45.2" y="219.65" font-family='"Liberation Sans", sans-serif' font-size="10" font-weight="normal" fill="#222" text-anchor="end" >9</text>
<line x1="48.5" y1="199.175" x2="50.3" y2="199.175" stroke="#555" stroke-width="1" />
<line x1="47.3" y1="182.3" x2="50.3" y2="182.3" stroke="#555" stroke-width="1" />
<text x="45.2" y="185.9" font-family='"Liberation Sans", sans-serif' font-size="10" font-weight="normal" fill="#222" text-anchor="end" >12</text>
<line x1="50.3" y1="317.3" x2="50.3" y2="320.3" stroke="#555" stroke-width="1" />
<text x="50.3" y="329.4" font-family='"Liberation Sans", sans-serif' font-size="10" font-weight="normal" fill="#222" text-anchor="middle" >0</text>
<line x1="78.25" y1="317.3" x2="78.25" y2="319.1" stroke="#555" stroke-width="1" />
<line x1="106.19999999999999" y1="317.3" x2="106.19999999999999" y2="320.3" stroke="#555" stroke-width="1" />
<text x="106.19999999999999" y="329.4" font-family='"Liberation Sans", sans-serif' font-size="10" font-weight="normal" fill="#222" text-anchor="middle" >6</text>
<line x1="134.14999999999998" y1="317.3" x2="134.14999999999998" y2="319.1" stroke="#555" stroke-width="1" />
<line x1="162.1" y1="317.3" x2="162.1" y2="320.3" stroke="#555" stroke-width="1" />
<text x="162.1" y="329.4" font-family='"Liberation Sans", sans-serif' font-size="10" font-weight="normal" fill="#222" text-anchor="middle" >12</text>
<line x1="190.05" y1="317.3" x2="190.05" y2="319.1" stroke="#555" stroke-width="1" />
<line x1="218.0" y1="317.3" x2="218.0" y2="320.3" stroke="#555" stroke-width="1" />
<text x="218.0" y="329.4" font-family='"Liberation Sans", sans-serif' font-size="10" font-weight="normal" fill="#222" text-anchor="middle" >18</text>
<text x="134.3" y="340.2" font-family='"Liberation Sans", sans-serif' font-size="11.2" font-weight="normal" fill="#222" text-anchor="middle"  stroke="#222" stroke-width="0.25">Time (h)</text>
<text x="0" y="0" transform="translate(32.7 249.8) rotate(-90)" font-family='"Liberation Sans", sans-serif' font-size="10.9" fill="#222" text-anchor="middle" xml:space="preserve">| <tspan font-style="italic" dx="1.7">j</tspan><tspan dx="1.7"> |</tspan><tspan dx="1.6"> (mA cm</tspan><tspan font-size="6.5" dy="-4">-2</tspan><tspan dy="4">)</tspan></text>
<path d="M50.5,202.4 C58.75,202.83 83.42,204.30 100,205 C116.58,205.70 130.33,206.07 150,206.6 C169.67,207.13 206.67,207.93 218,208.2" fill="none" stroke="#e03a3a" stroke-width="3.4" stroke-linecap="round"/>
<path d="M50.5,202.4 C58.75,202.83 83.42,204.30 100,205 C116.58,205.70 130.33,206.07 150,206.6 C169.67,207.13 206.67,207.93 218,208.2" fill="none" stroke="#f49090" stroke-width="1.1" stroke-linecap="round"/>
<path d="M50.5,205.8 C54.58,206.58 66.42,209.13 75,210.5 C83.58,211.87 89.00,212.83 102,214 C115.00,215.17 133.67,216.47 153,217.5 C172.33,218.53 207.17,219.75 218,220.2" fill="none" stroke="#3a3aa8" stroke-width="3.4" stroke-linecap="round"/>
<path d="M50.5,205.8 C54.58,206.58 66.42,209.13 75,210.5 C83.58,211.87 89.00,212.83 102,214 C115.00,215.17 133.67,216.47 153,217.5 C172.33,218.53 207.17,219.75 218,220.2" fill="none" stroke="#8080d0" stroke-width="1.1" stroke-linecap="round"/>
<path d="M50.5,206 C52.08,206.92 55.38,209.30 60,211.5 C64.62,213.70 71.20,216.22 78.2,219.2 C85.20,222.18 92.37,226.28 102,229.4 C111.63,232.52 124.67,235.35 136,237.9 C147.33,240.45 160.93,243.12 170,244.7 C179.07,246.28 182.40,246.80 190.4,247.4 C198.40,248.00 213.40,248.15 218,248.3" fill="none" stroke="#9040c0" stroke-width="3.4" stroke-linecap="round"/>
<path d="M50.5,206 C52.08,206.92 55.38,209.30 60,211.5 C64.62,213.70 71.20,216.22 78.2,219.2 C85.20,222.18 92.37,226.28 102,229.4 C111.63,232.52 124.67,235.35 136,237.9 C147.33,240.45 160.93,243.12 170,244.7 C179.07,246.28 182.40,246.80 190.4,247.4 C198.40,248.00 213.40,248.15 218,248.3" fill="none" stroke="#c890e0" stroke-width="1.1" stroke-linecap="round"/>
<path d="M50.5,206.5 C51.22,207.28 53.15,208.77 54.8,211.2 C56.45,213.63 58.20,217.90 60.4,221.1 C62.60,224.30 65.13,227.08 68,230.4 C70.87,233.72 74.73,238.27 77.6,241 C80.47,243.73 81.40,243.95 85.2,246.8 C89.00,249.65 95.33,254.95 100.4,258.1 C105.47,261.25 110.28,262.92 115.6,265.7 C120.92,268.48 129.52,273.28 132.3,274.8" fill="none" stroke="#2a7a7a" stroke-width="3.2" stroke-linecap="round"/>
<path d="M50.5,206.5 C51.22,207.28 53.15,208.77 54.8,211.2 C56.45,213.63 58.20,217.90 60.4,221.1 C62.60,224.30 65.13,227.08 68,230.4 C70.87,233.72 74.73,238.27 77.6,241 C80.47,243.73 81.40,243.95 85.2,246.8 C89.00,249.65 95.33,254.95 100.4,258.1 C105.47,261.25 110.28,262.92 115.6,265.7 C120.92,268.48 129.52,273.28 132.3,274.8" fill="none" stroke="#80c0c0" stroke-width="1.1" stroke-linecap="round"/>
<text x="211.9" y="203.5" font-family='"Liberation Sans", sans-serif' font-size="9" font-weight="normal" fill="#d83a3a" text-anchor="end"  stroke="#d83a3a" stroke-width="0.3">96.3%</text>
<text x="211.9" y="233.1" font-family='"Liberation Sans", sans-serif' font-size="9" font-weight="normal" fill="#3a3aa8" text-anchor="end"  stroke="#3a3aa8" stroke-width="0.3">86.4%</text>
<text x="211.9" y="259.9" font-family='"Liberation Sans", sans-serif' font-size="9" font-weight="normal" fill="#9040c0" text-anchor="end"  stroke="#9040c0" stroke-width="0.3">60.7%</text>
<text x="94.3" y="281.6" font-family='"Liberation Sans", sans-serif' font-size="8.6" font-weight="normal" fill="#3a6a78" text-anchor="start"  stroke="#3a6a78" stroke-width="0.35">37.7%</text>
<circle cx="157.3" cy="277.5" r="2" fill="#9040c0" stroke="#333" stroke-width="0.4"/>
<text x="162.4" y="280.7" font-family='"Liberation Sans", sans-serif' font-size="8.9" font-weight="normal" fill="#222" text-anchor="start"  stroke="#222" stroke-width="0.2">HEA/LNG</text>
<circle cx="157.3" cy="287.9" r="2" fill="#3a3aa8" stroke="#333" stroke-width="0.4"/>
<text x="162.4" y="291.09999999999997" font-family='"Liberation Sans", sans-serif' font-size="8.9" font-weight="normal" fill="#222" text-anchor="start"  stroke="#222" stroke-width="0.2">HEA/MNG</text>
<circle cx="157.3" cy="298.3" r="2" fill="#e03a3a" stroke="#333" stroke-width="0.4"/>
<text x="162.4" y="301.5" font-family='"Liberation Sans", sans-serif' font-size="8.9" font-weight="normal" fill="#222" text-anchor="start"  stroke="#222" stroke-width="0.2">HEA/HNG</text>
<circle cx="157.3" cy="308.7" r="2" fill="#2a7a7a" stroke="#333" stroke-width="0.4"/>
<text x="162.4" y="311.9" font-family='"Liberation Sans", sans-serif' font-size="8.9" font-weight="normal" fill="#222" text-anchor="start"  stroke="#222" stroke-width="0.2">20wt% Pt/C</text>
<rect x="271.7" y="183.3" width="149.2" height="142.5" fill="none" stroke="#222" stroke-width="1"/>
<line x1="269.09999999999997" y1="325.7" x2="271.7" y2="325.7" stroke="#222" stroke-width="0.9" />
<text x="267.6" y="328.2" font-family='"Liberation Serif", serif' font-size="7.4" font-weight="bold" fill="#222" text-anchor="end"  stroke="#222" stroke-width="0.12">0</text>
<line x1="270.09999999999997" y1="316.2" x2="271.7" y2="316.2" stroke="#222" stroke-width="0.9" />
<line x1="269.09999999999997" y1="306.7" x2="271.7" y2="306.7" stroke="#222" stroke-width="0.9" />
<text x="267.6" y="309.2" font-family='"Liberation Serif", serif' font-size="7.4" font-weight="bold" fill="#222" text-anchor="end"  stroke="#222" stroke-width="0.12">4</text>
<line x1="270.09999999999997" y1="297.2" x2="271.7" y2="297.2" stroke="#222" stroke-width="0.9" />
<line x1="269.09999999999997" y1="287.7" x2="271.7" y2="287.7" stroke="#222" stroke-width="0.9" />
<text x="267.6" y="290.2" font-family='"Liberation Serif", serif' font-size="7.4" font-weight="bold" fill="#222" text-anchor="end"  stroke="#222" stroke-width="0.12">8</text>
<line x1="270.09999999999997" y1="278.2" x2="271.7" y2="278.2" stroke="#222" stroke-width="0.9" />
<line x1="269.09999999999997" y1="268.7" x2="271.7" y2="268.7" stroke="#222" stroke-width="0.9" />
<text x="267.6" y="271.2" font-family='"Liberation Serif", serif' font-size="7.4" font-weight="bold" fill="#222" text-anchor="end"  stroke="#222" stroke-width="0.12">12</text>
<line x1="270.09999999999997" y1="259.2" x2="271.7" y2="259.2" stroke="#222" stroke-width="0.9" />
<line x1="269.09999999999997" y1="249.7" x2="271.7" y2="249.7" stroke="#222" stroke-width="0.9" />
<text x="267.6" y="252.2" font-family='"Liberation Serif", serif' font-size="7.4" font-weight="bold" fill="#222" text-anchor="end"  stroke="#222" stroke-width="0.12">16</text>
<line x1="270.09999999999997" y1="240.2" x2="271.7" y2="240.2" stroke="#222" stroke-width="0.9" />
<line x1="269.09999999999997" y1="230.7" x2="271.7" y2="230.7" stroke="#222" stroke-width="0.9" />
<text x="267.6" y="233.2" font-family='"Liberation Serif", serif' font-size="7.4" font-weight="bold" fill="#222" text-anchor="end"  stroke="#222" stroke-width="0.12">20</text>
<line x1="270.09999999999997" y1="221.2" x2="271.7" y2="221.2" stroke="#222" stroke-width="0.9" />
<line x1="269.09999999999997" y1="211.7" x2="271.7" y2="211.7" stroke="#222" stroke-width="0.9" />
<text x="267.6" y="214.2" font-family='"Liberation Serif", serif' font-size="7.4" font-weight="bold" fill="#222" text-anchor="end"  stroke="#222" stroke-width="0.12">24</text>
<line x1="270.09999999999997" y1="202.2" x2="271.7" y2="202.2" stroke="#222" stroke-width="0.9" />
<line x1="269.09999999999997" y1="192.7" x2="271.7" y2="192.7" stroke="#222" stroke-width="0.9" />
<text x="267.6" y="195.2" font-family='"Liberation Serif", serif' font-size="7.4" font-weight="bold" fill="#222" text-anchor="end"  stroke="#222" stroke-width="0.12">28</text>
<text x="0" y="0" transform="translate(255.2 262) rotate(-90)" font-family='"Liberation Serif", serif' font-size="8.5" font-weight="bold" fill="#222" text-anchor="middle" stroke="#222" stroke-width="0.15">Current Density (A mg<tspan font-size="5.5" dy="-3.3">-1</tspan><tspan font-size="4.3" dy="5.5">noble metal</tspan><tspan dy="-2.2">)</tspan></text>
<text x="304.8" y="196" font-family='"Liberation Serif", serif' font-size="7.7" font-weight="bold" fill="#222" text-anchor="start" >HER@-0.05V</text>
<text x="361.5" y="196" font-family='"Liberation Serif", serif' font-size="7.7" font-weight="bold" fill="#222" text-anchor="start" >pH 0</text>
<defs>
<linearGradient id="gE0" x1="0" y1="0" x2="0" y2="1"><stop offset="0" stop-color="#9090e0"/><stop offset="1" stop-color="#9090e0"/></linearGradient>
<linearGradient id="gE1" x1="0" y1="0" x2="0" y2="1"><stop offset="0" stop-color="#e05050"/><stop offset="1" stop-color="#d04040"/></linearGradient>
<linearGradient id="gE2" x1="0" y1="0" x2="0" y2="1"><stop offset="0" stop-color="#b040c0"/><stop offset="1" stop-color="#9030b0"/></linearGradient>
<linearGradient id="gE3" x1="0" y1="0" x2="0" y2="1"><stop offset="0" stop-color="#6040c0"/><stop offset="1" stop-color="#4a30a8"/></linearGradient>
<linearGradient id="gE4" x1="0" y1="0" x2="0" y2="1"><stop offset="0" stop-color="#f08a30"/><stop offset="1" stop-color="#e060c0"/></linearGradient>
<linearGradient id="gE5" x1="0" y1="0" x2="0" y2="1"><stop offset="0" stop-color="#8a8a30"/><stop offset="1" stop-color="#30a040"/></linearGradient>
<linearGradient id="gE6" x1="0" y1="0" x2="0" y2="1"><stop offset="0" stop-color="#8a30a8"/><stop offset="1" stop-color="#b02040"/></linearGradient>
<linearGradient id="gE7" x1="0" y1="0" x2="0" y2="1"><stop offset="0" stop-color="#7040b0"/><stop offset="1" stop-color="#3a58c8"/></linearGradient>
<linearGradient id="gE8" x1="0" y1="0" x2="0" y2="1"><stop offset="0" stop-color="#a08a30"/><stop offset="1" stop-color="#f0a030"/></linearGradient>
<linearGradient id="gE9" x1="0" y1="0" x2="0" y2="1"><stop offset="0" stop-color="#60c040"/><stop offset="1" stop-color="#209040"/></linearGradient>
<linearGradient id="gE10" x1="0" y1="0" x2="0" y2="1"><stop offset="0" stop-color="#f02090"/><stop offset="1" stop-color="#f03a50"/></linearGradient>
</defs>
<rect x="272.30" y="325.13" width="12.4" height="0.57" fill="url(#gE0)" stroke="#333" stroke-width="0.4"/>
<text x="280.7" y="322.8" font-family='"Liberation Serif", serif' font-size="6.25" font-weight="bold" fill="#222" text-anchor="start" transform="rotate(-90 280.7 322.8)"  stroke="#222" stroke-width="0.22">Angew. Chem. Int. Ed., 2019, 58, 11409</text>
<text x="0" y="0" transform="translate(274.4 331) rotate(45)" font-family='"Liberation Serif", serif' font-size="6.3" font-weight="bold" fill="#222" stroke="#222" stroke-width="0.15">RuSi</text>
<rect x="285.67" y="324.51" width="12.4" height="1.19" fill="url(#gE1)" stroke="#333" stroke-width="0.4"/>
<text x="294.07" y="322.8" font-family='"Liberation Serif", serif' font-size="6.25" font-weight="bold" fill="#222" text-anchor="start" transform="rotate(-90 294.07 322.8)"  stroke="#222" stroke-width="0.22">Nat. Catal., 2019, 2, 1107</text>
<text x="0" y="0" transform="translate(287.7 331) rotate(45)" font-family='"Liberation Serif", serif' font-size="6.3" font-weight="bold" fill="#222" stroke="#222" stroke-width="0.15">L-Ag</text>
<rect x="299.04" y="315.91" width="12.4" height="9.79" fill="url(#gE2)" stroke="#333" stroke-width="0.4"/>
<text x="307.44" y="322.8" font-family='"Liberation Serif", serif' font-size="6.25" font-weight="bold" fill="#222" text-anchor="start" transform="rotate(-90 307.44 322.8)"  stroke="#222" stroke-width="0.22">Nat. Commun., 2017, 8, 14580</text>
<text x="0" y="0" transform="translate(301.0 331) rotate(45)" font-family='"Liberation Serif", serif' font-size="6.3" font-weight="bold" fill="#222" stroke="#222" stroke-width="0.15">Pt<tspan font-size="4.2" dy="2">3</tspan><tspan dy="-2">Ni</tspan><tspan font-size="4.2" dy="2">2</tspan><tspan dy="-2">NWs-S/C</tspan></text>
<rect x="312.41" y="300.52" width="12.4" height="25.18" fill="url(#gE3)" stroke="#333" stroke-width="0.4"/>
<text x="320.81" y="322.8" font-family='"Liberation Serif", serif' font-size="6.25" font-weight="bold" fill="#222" text-anchor="start" transform="rotate(-90 320.81 322.8)"  stroke="#222" stroke-width="0.22">Nat. Catal., 2018, 1, 985</text>
<text x="0" y="0" transform="translate(314.3 331) rotate(45)" font-family='"Liberation Serif", serif' font-size="6.3" font-weight="bold" fill="#222" stroke="#222" stroke-width="0.15">Mo<tspan font-size="4.2" dy="2">2</tspan><tspan dy="-2">TiC</tspan><tspan font-size="4.2" dy="2">2</tspan><tspan dy="-2">T</tspan><tspan font-size="4.2" dy="2">x</tspan><tspan dy="-2">-Pt</tspan><tspan font-size="4.2" dy="2">SA</tspan></text>
<rect x="325.78" y="295.30" width="12.4" height="30.40" fill="url(#gE4)" stroke="#333" stroke-width="0.4"/>
<text x="334.18" y="322.8" font-family='"Liberation Serif", serif' font-size="6.25" font-weight="bold" fill="#222" text-anchor="start" transform="rotate(-90 334.18 322.8)"  stroke="#222" stroke-width="0.22">Nat. Commun., 2019, 10, 4875</text>
<text x="0" y="0" transform="translate(327.6 331) rotate(45)" font-family='"Liberation Serif", serif' font-size="6.3" font-weight="bold" fill="#222" stroke="#222" stroke-width="0.15">RuIrO<tspan font-size="4.2" dy="2">x</tspan></text>
<rect x="339.15" y="288.51" width="12.4" height="37.19" fill="url(#gE5)" stroke="#333" stroke-width="0.4"/>
<text x="347.54999999999995" y="322.8" font-family='"Liberation Serif", serif' font-size="6.25" font-weight="bold" fill="#222" text-anchor="start" transform="rotate(-90 347.54999999999995 322.8)"  stroke="#222" stroke-width="0.22">J. Am. Chem. Soc., 2019, 141, 19964</text>
<text x="0" y="0" transform="translate(340.9 331) rotate(45)" font-family='"Liberation Serif", serif' font-size="6.3" font-weight="bold" fill="#222" stroke="#222" stroke-width="0.15">AL-Pt|Pd<tspan font-size="4.2" dy="2">3</tspan><tspan dy="-2">Pb</tspan></text>
<rect x="352.52" y="279.81" width="12.4" height="45.88" fill="url(#gE6)" stroke="#333" stroke-width="0.4"/>
<text x="360.91999999999996" y="322.8" font-family='"Liberation Serif", serif' font-size="6.25" font-weight="bold" fill="#222" text-anchor="start" transform="rotate(-90 360.91999999999996 322.8)"  stroke="#222" stroke-width="0.22">Nat. Energy., 2019, 4, 512</text>
<text x="0" y="0" transform="translate(354.3 331) rotate(45)" font-family='"Liberation Serif", serif' font-size="6.3" font-weight="bold" fill="#222" stroke="#222" stroke-width="0.15">Pt<tspan font-size="4.2" dy="2">1</tspan><tspan dy="-2">/OLC</tspan></text>
<rect x="365.89" y="235.45" width="12.4" height="90.25" fill="url(#gE7)" stroke="#333" stroke-width="0.4"/>
<text x="374.28999999999996" y="322.8" font-family='"Liberation Serif", serif' font-size="6.25" font-weight="bold" fill="#222" text-anchor="start" transform="rotate(-90 374.28999999999996 322.8)"  stroke="#222" stroke-width="0.22">Nat. Commun., 2019, 10, 1657</text>
<text x="371.8" y="233.9" font-family='"Liberation Serif", serif' font-size="7" font-weight="bold" fill="#222" text-anchor="middle" textLength="13.4" lengthAdjust="spacingAndGlyphs" stroke="#222" stroke-width="0.12">19.00</text>
<text x="0" y="0" transform="translate(367.6 331) rotate(45)" font-family='"Liberation Serif", serif' font-size="6.3" font-weight="bold" fill="#222" stroke="#222" stroke-width="0.15">Pt<tspan font-size="4.2" dy="2">1</tspan><tspan dy="-2">/NCNC</tspan></text>
<rect x="379.26" y="231.41" width="12.4" height="94.29" fill="url(#gE8)" stroke="#333" stroke-width="0.4"/>
<text x="387.65999999999997" y="322.8" font-family='"Liberation Serif", serif' font-size="6.25" font-weight="bold" fill="#222" text-anchor="start" transform="rotate(-90 387.65999999999997 322.8)"  stroke="#222" stroke-width="0.22">Nat. Energy., 2018, 3, 773</text>
<text x="384.7" y="226.4" font-family='"Liberation Serif", serif' font-size="7" font-weight="bold" fill="#222" text-anchor="middle" textLength="13.4" lengthAdjust="spacingAndGlyphs" stroke="#222" stroke-width="0.12">19.85</text>
<text x="0" y="0" transform="translate(380.9 331) rotate(45)" font-family='"Liberation Serif", serif' font-size="6.3" font-weight="bold" fill="#222" stroke="#222" stroke-width="0.15">Pt-GT-1</text>
<rect x="392.63" y="215.97" width="12.4" height="109.73" fill="url(#gE9)" stroke="#333" stroke-width="0.4"/>
<text x="401.03" y="322.8" font-family='"Liberation Serif", serif' font-size="6.25" font-weight="bold" fill="#222" text-anchor="start" transform="rotate(-90 401.03 322.8)"  stroke="#222" stroke-width="0.22">Nat. Commun., 2019, 10, 4936</text>
<text x="399" y="214" font-family='"Liberation Serif", serif' font-size="7" font-weight="bold" fill="#222" text-anchor="middle" textLength="13.4" lengthAdjust="spacingAndGlyphs" stroke="#222" stroke-width="0.12">23.10</text>
<text x="0" y="0" transform="translate(394.2 331) rotate(45)" font-family='"Liberation Serif", serif' font-size="6.3" font-weight="bold" fill="#222" stroke="#222" stroke-width="0.15">Pt-Ru dimers</text>
<rect x="406.00" y="191.27" width="12.4" height="134.43" fill="url(#gE10)" stroke="#333" stroke-width="0.4"/>
<text x="414.4" y="296.5" font-family='"Liberation Serif", serif' font-size="6.25" font-weight="bold" fill="#222" text-anchor="start" transform="rotate(-90 414.4 296.5)"  stroke="#222" stroke-width="0.22">This work</text>
<text x="411.4" y="190.8" font-family='"Liberation Serif", serif' font-size="7" font-weight="bold" fill="#222" text-anchor="middle" textLength="13.4" lengthAdjust="spacingAndGlyphs" stroke="#222" stroke-width="0.12">28.30</text>
<text x="0" y="0" transform="translate(407.5 331) rotate(45)" font-family='"Liberation Serif", serif' font-size="6.3" font-weight="bold" fill="#222" stroke="#222" stroke-width="0.15">ns-HEA/C</text>
<rect x="470.8" y="183.7" width="144.59999999999997" height="144.3" fill="none" stroke="#8a8a8a" stroke-width="1"/>
<line x1="468.3" y1="328.0" x2="470.8" y2="328.0" stroke="#444" stroke-width="0.9" />
<text x="466.6" y="331.9" font-family='"Liberation Sans", sans-serif' font-size="11" font-weight="normal" fill="#222" text-anchor="end" >0</text>
<line x1="468.3" y1="303.6" x2="470.8" y2="303.6" stroke="#444" stroke-width="0.9" />
<text x="466.6" y="307.5" font-family='"Liberation Sans", sans-serif' font-size="11" font-weight="normal" fill="#222" text-anchor="end" >10</text>
<line x1="468.3" y1="279.2" x2="470.8" y2="279.2" stroke="#444" stroke-width="0.9" />
<text x="466.6" y="283.09999999999997" font-family='"Liberation Sans", sans-serif' font-size="11" font-weight="normal" fill="#222" text-anchor="end" >20</text>
<line x1="468.3" y1="254.8" x2="470.8" y2="254.8" stroke="#444" stroke-width="0.9" />
<text x="466.6" y="258.7" font-family='"Liberation Sans", sans-serif' font-size="11" font-weight="normal" fill="#222" text-anchor="end" >30</text>
<line x1="468.3" y1="230.4" x2="470.8" y2="230.4" stroke="#444" stroke-width="0.9" />
<text x="466.6" y="234.3" font-family='"Liberation Sans", sans-serif' font-size="11" font-weight="normal" fill="#222" text-anchor="end" >40</text>
<line x1="468.3" y1="206.0" x2="470.8" y2="206.0" stroke="#444" stroke-width="0.9" />
<text x="466.6" y="209.9" font-family='"Liberation Sans", sans-serif' font-size="11" font-weight="normal" fill="#222" text-anchor="end" >50</text>
<line x1="615.4" y1="301.0" x2="617.9" y2="301.0" stroke="#444" stroke-width="0.9" />
<text x="618.3" y="304.9" font-family='"Liberation Sans", sans-serif' font-size="11" font-weight="normal" fill="#222" text-anchor="start" >1</text>
<line x1="615.4" y1="270.6" x2="617.9" y2="270.6" stroke="#444" stroke-width="0.9" />
<text x="618.3" y="274.5" font-family='"Liberation Sans", sans-serif' font-size="11" font-weight="normal" fill="#222" text-anchor="start" >2</text>
<line x1="615.4" y1="240.2" x2="617.9" y2="240.2" stroke="#444" stroke-width="0.9" />
<text x="618.3" y="244.1" font-family='"Liberation Sans", sans-serif' font-size="11" font-weight="normal" fill="#222" text-anchor="start" >3</text>
<line x1="615.4" y1="209.8" x2="617.9" y2="209.8" stroke="#444" stroke-width="0.9" />
<text x="618.3" y="213.70000000000002" font-family='"Liberation Sans", sans-serif' font-size="11" font-weight="normal" fill="#222" text-anchor="start" >4</text>
<text x="513.3" y="342" font-family='"Liberation Sans", sans-serif' font-size="10.8" font-weight="normal" fill="#222" text-anchor="middle" >PtPdRhRuCu</text>
<text x="582.7" y="342" font-family='"Liberation Sans", sans-serif' font-size="10.8" font-weight="normal" fill="#222" text-anchor="middle" >Pt</text>
<text x="0" y="0" transform="translate(451 259) rotate(-90)" font-family='"Liberation Sans", sans-serif' font-size="11.3" fill="#222" text-anchor="middle">Overpotential (mV)@<tspan font-style="italic">j</tspan><tspan font-size="7.4" dy="2.2">10</tspan></text>
<text x="0" y="0" transform="translate(637.2 251) rotate(-90)" font-family='"Liberation Sans", sans-serif' font-size="11.3" fill="#222" text-anchor="middle">TOF (s<tspan font-size="7.2" dy="-4.2">−1</tspan><tspan dy="4.2">)</tspan></text>
<rect x="503.5" y="305.9" width="7.20" height="22.10" fill="#f28a8a" stroke="#b86a6a" stroke-width="0.5"/>
<rect x="510.7" y="195.1" width="7.40" height="132.90" fill="#a4bde6" stroke="#8aa0c8" stroke-width="0.5"/>
<rect x="575.3" y="222.9" width="7.90" height="105.10" fill="#f28a8a" stroke="#b86a6a" stroke-width="0.5"/>
<rect x="583.2" y="301.1" width="7.80" height="26.90" fill="#a4bde6" stroke="#8aa0c8" stroke-width="0.5"/>
<line x1="507.3" y1="303.5" x2="507.3" y2="308.3" stroke="#222" stroke-width="0.9" />
<line x1="506.0" y1="303.5" x2="508.6" y2="303.5" stroke="#222" stroke-width="1" />
<line x1="506.0" y1="308.3" x2="508.6" y2="308.3" stroke="#222" stroke-width="1" />
<line x1="514.4" y1="192.4" x2="514.4" y2="199.3" stroke="#222" stroke-width="0.9" />
<line x1="513.1" y1="192.4" x2="515.6999999999999" y2="192.4" stroke="#222" stroke-width="1" />
<line x1="513.1" y1="199.3" x2="515.6999999999999" y2="199.3" stroke="#222" stroke-width="1" />
<line x1="579.4" y1="217.7" x2="579.4" y2="227.4" stroke="#222" stroke-width="0.9" />
<line x1="578.1" y1="217.7" x2="580.6999999999999" y2="217.7" stroke="#222" stroke-width="1" />
<line x1="578.1" y1="227.4" x2="580.6999999999999" y2="227.4" stroke="#222" stroke-width="1" />
<line x1="586.4" y1="298.4" x2="586.4" y2="303.2" stroke="#222" stroke-width="0.9" />
<line x1="585.1" y1="298.4" x2="587.6999999999999" y2="298.4" stroke="#222" stroke-width="1" />
<line x1="585.1" y1="303.2" x2="587.6999999999999" y2="303.2" stroke="#222" stroke-width="1" />
<polyline points="503.8,304.8 503.8,298.8 499,298.8" fill="none" stroke="#222" stroke-width="0.9"/>
<polygon points="495.9,298.8 499.6,297.4 499.6,300.2" fill="#222"/>
<polyline points="517.4,195.1 517.4,189.3 523,189.3" fill="none" stroke="#222" stroke-width="0.9"/>
<polygon points="526.3,189.3 522.6,187.9 522.6,190.7" fill="#222"/>
<text x="11.3" y="21.3" font-family='"Liberation Sans", sans-serif' font-size="15.5" font-weight="bold" fill="#222" text-anchor="start" >(a)</text>
<text x="223.6" y="21.3" font-family='"Liberation Sans", sans-serif' font-size="15.5" font-weight="bold" fill="#222" text-anchor="start" >(b)</text>
<text x="441.3" y="21.3" font-family='"Liberation Sans", sans-serif' font-size="15.5" font-weight="bold" fill="#222" text-anchor="start" >(c)</text>
<text x="11.3" y="186.3" font-family='"Liberation Sans", sans-serif' font-size="15.5" font-weight="bold" fill="#222" text-anchor="start" >(d)</text>
<text x="227.8" y="186.1" font-family='"Liberation Sans", sans-serif' font-size="15.5" font-weight="bold" fill="#222" text-anchor="start" >(e)</text>
<text x="440.9" y="190.6" font-family='"Liberation Sans", sans-serif' font-size="15.5" font-weight="bold" fill="#222" text-anchor="start" >(f)</text>
</svg></body></html>
